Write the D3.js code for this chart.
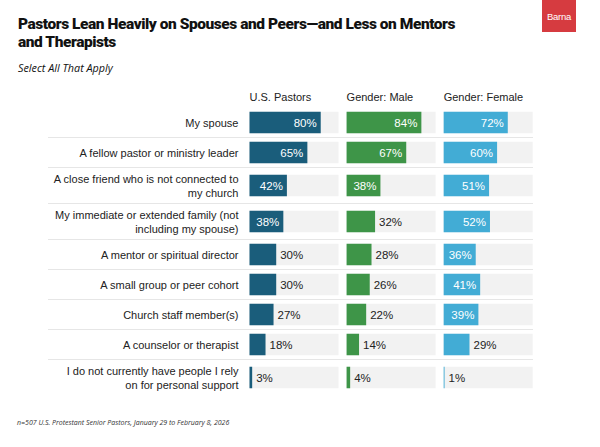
<!DOCTYPE html>
<html>
<head>
<meta charset="utf-8">
<script src="https://cdn.jsdelivr.net/npm/d3@7"></script>
<style>
  body { margin: 0; background: #fff; }
  svg { display: block; }
</style>
</head>
<body>
<div id="chart"></div>
<script>
// data
const categories = [
  "My spouse",
  "A fellow pastor or ministry leader",
  "A close friend who is not connected to|my church",
  "My immediate or extended family (not|including my spouse)",
  "A mentor or spiritual director",
  "A small group or peer cohort",
  "Church staff member(s)",
  "A counselor or therapist",
  "I do not currently have people I rely|on for personal support"
];
const groups = ["U.S. Pastors", "Gender: Male", "Gender: Female"];
const usPastors = [80, 65, 42, 38, 30, 30, 27, 18, 3];
const male = [84, 67, 38, 32, 28, 26, 22, 14, 4];
const female = [72, 60, 51, 52, 36, 41, 39, 29, 1];
const seriesValues = [usPastors, male, female];
const colors = ["#1a5d7b", "#3e9548", "#42acd5"];

const W = 600, H = 447;
const svg = d3.select("#chart").append("svg")
  .attr("width", W)
  .attr("height", H)
  .style("font-family", "'Liberation Sans', Arial, sans-serif");

// title block
const title = svg.append("text")
  .style("font-family", "Roboto, sans-serif")
  .style("font-size", "15.5px").style("font-weight", "900")
  .style("letter-spacing", "-0.45px")
  .attr("fill", "#111");
title.append("tspan").attr("x", 18).attr("y", 29)
  .text("Pastors Lean Heavily on Spouses and Peers\u2014and Less on Mentors");
title.append("tspan").attr("x", 18).attr("y", 46.5)
  .text("and Therapists");

svg.append("text")
  .attr("x", 18).attr("y", 72)
  .style("font-family", "'Open Sans', sans-serif")
  .style("font-size", "10.8px").style("font-style", "italic").attr("fill", "#111")
  .text("Select All That Apply");

// logo
svg.append("rect")
  .attr("x", 542).attr("y", 0).attr("width", 34).attr("height", 32)
  .attr("fill", "#d63b40");
svg.append("text")
  .attr("x", 559).attr("y", 19.5).attr("text-anchor", "middle")
  .style("font-size", "9.5px").style("letter-spacing", "-0.3px").attr("fill", "#fff")
  .text("Barna");

// rows: two-line labels get a taller band
const rows = categories.map(c => c.split("|"));
const rowH = rows.map(r => r.length > 1 ? 36 : 30);
const rowTop = [];
let acc = 107.5;
rowH.forEach(h => { rowTop.push(acc); acc += h; });
const barH = 21.5;

const col = d3.scaleBand()
  .domain(groups)
  .range([249.5, 532.7])
  .paddingInner(0.083);
const x = d3.scaleLinear()
  .domain([0, 100])
  .range([0, col.bandwidth()]);

// column headers
svg.selectAll(".hdr")
  .data(groups)
  .join("text")
  .attr("class", "hdr")
  .attr("x", d => col(d))
  .attr("y", 101)
  .style("font-size", "11px")
  .attr("fill", "#222")
  .text(d => d);

// separators between rows
svg.selectAll(".sep")
  .data(rowTop.slice(1))
  .join("line")
  .attr("class", "sep")
  .attr("x1", 48).attr("x2", 533)
  .attr("y1", d => d).attr("y2", d => d)
  .attr("stroke", "#e6e6e6").attr("stroke-width", 1);

// category labels
const lab = svg.selectAll(".lab")
  .data(rows)
  .join("text")
  .attr("class", "lab")
  .attr("text-anchor", "end")
  .style("font-size", "11px")
  .attr("fill", "#222");
lab.each(function(d, i) {
  const cy = rowTop[i] + rowH[i] / 2;
  const t = d3.select(this);
  d.forEach((line, j) => {
    t.append("tspan")
      .attr("x", 238.5)
      .attr("y", cy + 4 + (j - (d.length - 1) / 2) * 14)
      .text(line);
  });
});

// bars for each group
groups.forEach((g, gi) => {
  const vals = seriesValues[gi];
  const gx = col(g);
  const cell = svg.append("g").selectAll("g")
    .data(vals)
    .join("g")
    .attr("transform", (d, i) => `translate(${gx},${rowTop[i] + (rowH[i] - barH) / 2})`);

  cell.append("rect")
    .attr("width", x(100)).attr("height", barH)
    .attr("fill", "#f2f2f2");
  cell.append("rect")
    .attr("width", d => x(d)).attr("height", barH)
    .attr("fill", colors[gi]);
  cell.append("text")
    .attr("x", d => d >= 33 ? x(d) - 4 : x(d) + 4)
    .attr("y", barH / 2 + 4)
    .attr("text-anchor", d => d >= 33 ? "end" : "start")
    .style("font-size", "11.5px")
    .attr("fill", d => d >= 33 ? "#fff" : "#222")
    .text(d => d + "%");
});

// footnote
svg.append("text")
  .attr("x", 17).attr("y", 424.5)
  .style("font-family", "'Open Sans', sans-serif")
  .style("font-size", "7px").style("font-style", "italic").attr("fill", "#333")
  .text("n=507 U.S. Protestant Senior Pastors, January 29 to February 8, 2026");
</script>
</body>
</html>
